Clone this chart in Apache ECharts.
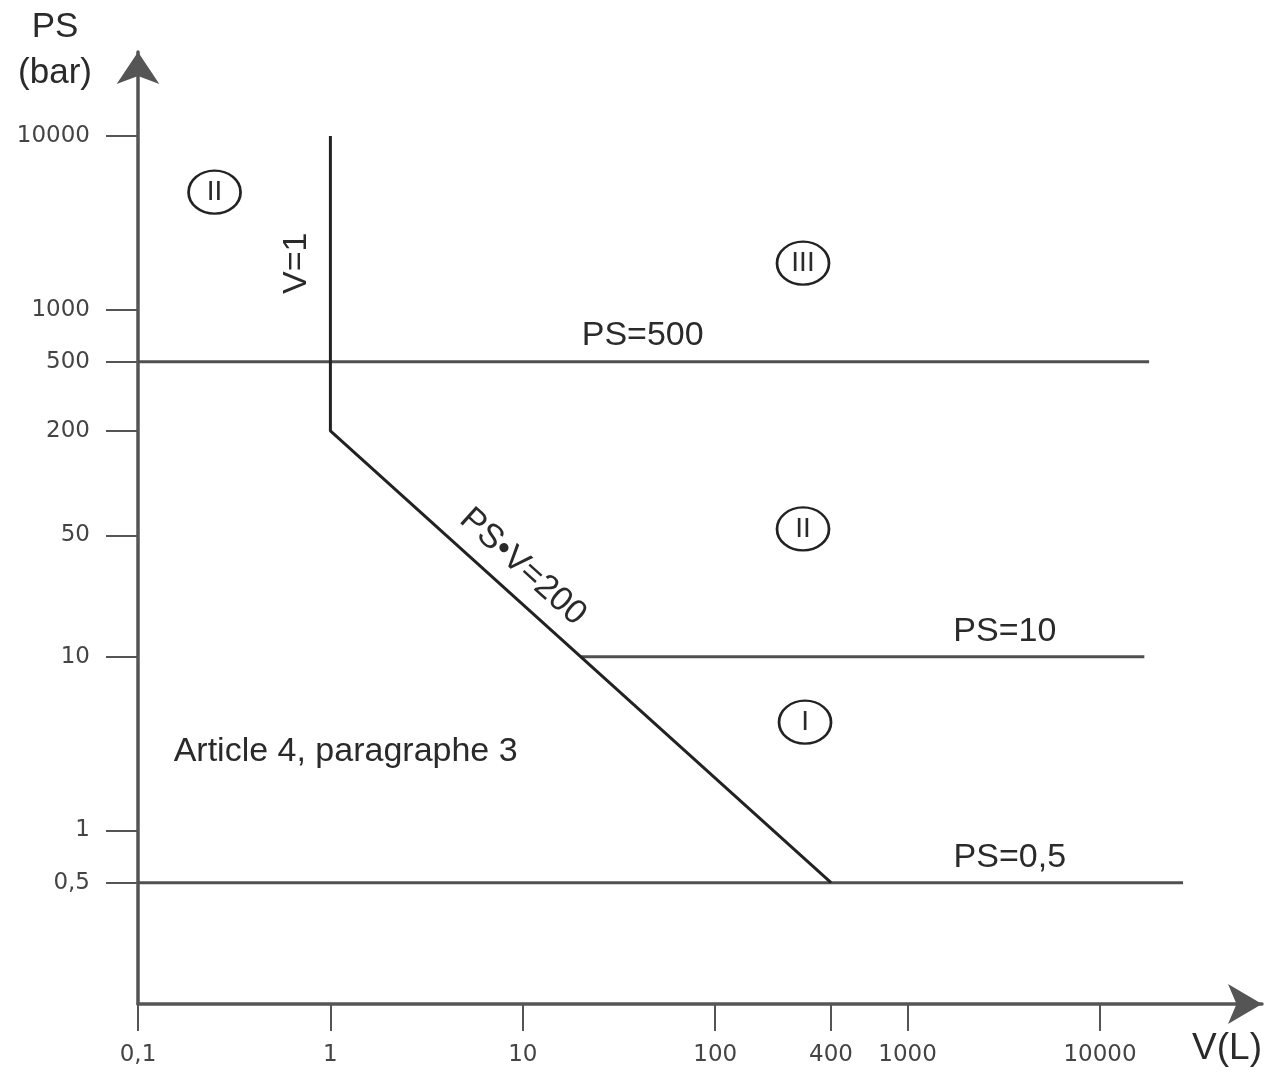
<!DOCTYPE html>
<html><head><meta charset="utf-8">
<script src="https://cdn.jsdelivr.net/npm/echarts@6/dist/echarts.min.js"></script>
<style>html,body{margin:0;padding:0;background:#fff}#c{width:1285px;height:1073px}</style>
</head><body><div id="c"></div>
<script>
// Axis ticks
const xTicks = [0.1, 1, 10, 100, 400, 1000, 10000];
const xTickLabels = ['0,1', '1', '10', '100', '400', '1000', '10000'];
const yTicks = [0.5, 1, 10, 50, 200, 500, 1000, 10000];
const yTickLabels = ['0,5', '1', '10', '50', '200', '500', '1000', '10000'];

// Limit lines [V (L), PS (bar)]
const boundaryLine = [[1, 10000], [1, 200], [400, 0.5]]; // V=1 then PS·V=200
const ps500Line = [[0.1, 500], [18000, 500]];
const ps10Line = [[20, 10], [17000, 10]];
const ps05Line = [[0.1, 0.5], [27000, 0.5]];

// Category marks (circled numerals)
const categoryNames = ['II', 'III', 'II', 'I'];
const categoryPos = [[0.25, 4750], [286, 1850], [286, 54.5], [293, 4.2]];

// Text annotations
const annotationTexts = ['V=1', 'PS=500', 'PS•V=200', 'PS=10', 'PS=0,5', 'Article 4, paragraphe 3'];
const annotationPos = [[0.67, 1850], [42, 705], [10, 32.9], [3200, 13.9], [3400, 0.70], [1.2, 2.83]];
const annotationRotate = [90, 0, -42, 0, 0, 0];

const AX = '#555';
const TXT = '#2a2a2a';
const MAIN_FONT = 'Liberation Sans, Arial, sans-serif';
const TICK_FONT = 'DejaVu Sans, sans-serif';

function lookup(vals, labels, v) {
  for (let i = 0; i < vals.length; i++) {
    if (Math.abs(Math.log10(v) - Math.log10(vals[i])) < 1e-6) return labels[i];
  }
  return '';
}

function lineSeries(data, color, width) {
  return {
    type: 'line', data: data, symbol: 'none', silent: true, animation: false,
    lineStyle: { color: color, width: width }, z: 3
  };
}

const chart = echarts.init(document.getElementById('c'), null, { renderer: 'canvas' });
chart.setOption({
  backgroundColor: '#ffffff',
  animation: false,
  grid: { left: 138, right: 23, top: 52, bottom: 69, containLabel: false },
  xAxis: {
    type: 'log', logBase: 10, min: 0.1, max: 69500,
    name: 'V(L)', nameLocation: 'end', nameGap: 0,
    nameTextStyle: { fontFamily: MAIN_FONT, fontSize: 37, color: TXT, align: 'right', verticalAlign: 'top', padding: [26, 0, 0, 0] },
    axisLine: { show: true, lineStyle: { color: AX, width: 3.5 }, symbol: ['none', 'arrow'], symbolSize: [30, 34] },
    axisTick: { show: true, inside: false, length: 27, lineStyle: { color: AX, width: 2 }, customValues: xTicks },
    axisLabel: { show: true, margin: 40, fontFamily: TICK_FONT, fontSize: 23, color: '#444', customValues: xTicks,
      formatter: v => lookup(xTicks, xTickLabels, v) },
    splitLine: { show: false }, minorTick: { show: false }
  },
  yAxis: {
    type: 'log', logBase: 10, min: 0.1, max: 30470,
    name: 'PS\n(bar)', nameLocation: 'end', nameGap: 2,
    nameTextStyle: { fontFamily: MAIN_FONT, fontSize: 35, lineHeight: 46, color: TXT, align: 'center', verticalAlign: 'middle', padding: [0, 166, 0, 0] },
    axisLine: { show: true, lineStyle: { color: AX, width: 3.5 }, symbol: ['none', 'arrow'], symbolSize: [32, 32] },
    axisTick: { show: true, inside: false, length: 32, lineStyle: { color: AX, width: 2 }, customValues: yTicks },
    axisLabel: { show: true, margin: 48, fontFamily: TICK_FONT, fontSize: 23, color: '#444', customValues: yTicks,
      formatter: v => lookup(yTicks, yTickLabels, v) },
    splitLine: { show: false }, minorTick: { show: false }
  },
  series: [
    lineSeries(ps500Line, '#505050', 3),
    lineSeries(ps10Line, '#505050', 3),
    lineSeries(ps05Line, '#505050', 3),
    lineSeries(boundaryLine, '#222', 3),
    {
      type: 'scatter', silent: true, animation: false, z: 4,
      symbol: 'circle', symbolSize: [52, 43],
      itemStyle: { color: '#ffffff', borderColor: '#222', borderWidth: 2.5, opacity: 1 },
      data: categoryPos.map((p, i) => ({ name: categoryNames[i], value: p })),
      label: { show: true, position: 'inside', formatter: '{b}', fontFamily: MAIN_FONT, fontSize: 28, color: TXT },
      emphasis: { disabled: true }
    },
    {
      type: 'scatter', silent: true, animation: false, z: 5,
      symbol: 'circle', symbolSize: 1,
      itemStyle: { color: 'rgba(0,0,0,0)', opacity: 1 },
      data: annotationPos.map((p, i) => ({
        name: annotationTexts[i], value: p,
        label: { rotate: annotationRotate[i] }
      })),
      label: { show: true, position: 'inside', formatter: '{b}', fontFamily: MAIN_FONT, fontSize: 34, color: TXT },
      emphasis: { disabled: true }
    }
  ]
});
</script></body></html>
